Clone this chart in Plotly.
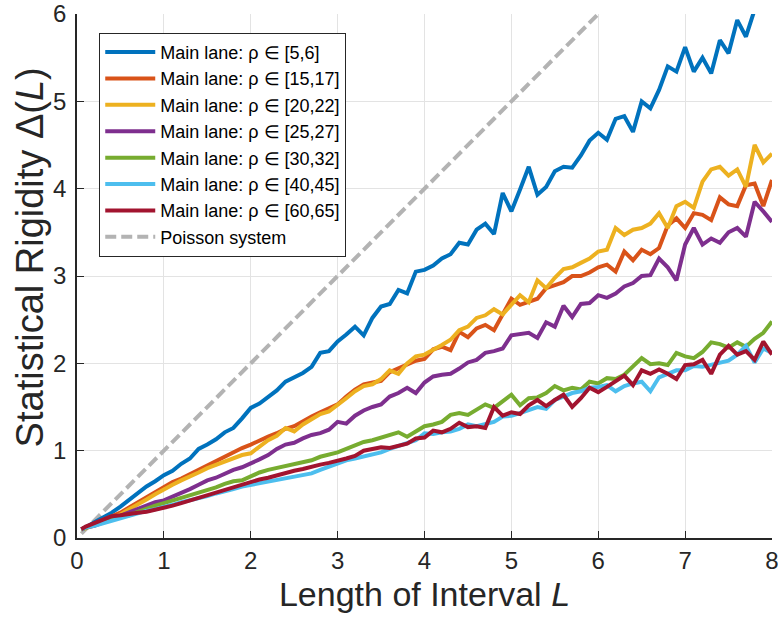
import plotly.graph_objects as go

# interval lengths L (grid of the curves)
L = [0.05] + [round(0.1 * i, 1) for i in range(1, 81)]

rho_5_6 = [0.10, 0.12, 0.18, 0.23, 0.29, 0.36, 0.44, 0.51, 0.59, 0.65,
           0.72, 0.77, 0.85, 0.91, 1.02, 1.07, 1.13, 1.21, 1.26, 1.37,
           1.49, 1.54, 1.62, 1.69, 1.79, 1.84, 1.89, 1.96, 2.12, 2.14,
           2.25, 2.33, 2.42, 2.32, 2.52, 2.65, 2.68, 2.84, 2.80, 3.05,
           3.07, 3.12, 3.20, 3.25, 3.38, 3.36, 3.53, 3.60, 3.48, 3.95,
           3.74, 3.99, 4.25, 3.93, 4.02, 4.20, 4.25, 4.24, 4.38, 4.55,
           4.64, 4.56, 4.80, 4.83, 4.65, 5.00, 4.92, 5.13, 5.40, 5.34,
           5.62, 5.34, 5.50, 5.32, 5.70, 5.55, 5.93, 5.74, 6.05, 6.20,
           6.30]

rho_15_17 = [0.10, 0.12, 0.16, 0.20, 0.24, 0.29, 0.35, 0.41, 0.47, 0.53,
             0.59, 0.64, 0.68, 0.73, 0.79, 0.84, 0.88, 0.94, 0.98, 1.03,
             1.07, 1.12, 1.16, 1.20, 1.25, 1.28, 1.34, 1.39, 1.44, 1.49,
             1.53, 1.62, 1.70, 1.76, 1.78, 1.80, 1.90, 1.94, 1.98, 2.03,
             2.05, 2.16, 2.19, 2.15, 2.36, 2.30, 2.40, 2.44, 2.38, 2.55,
             2.74, 2.67, 2.70, 2.74, 2.86, 2.90, 2.93, 3.00, 3.00, 3.04,
             3.10, 3.13, 3.05, 3.28, 3.18, 3.30, 3.25, 3.32, 3.58, 3.66,
             3.55, 3.72, 3.70, 3.64, 3.90, 3.82, 3.80, 4.04, 4.06, 3.80,
             4.10]

rho_20_22 = [0.10, 0.11, 0.15, 0.19, 0.23, 0.27, 0.33, 0.38, 0.44, 0.50,
             0.56, 0.61, 0.66, 0.70, 0.75, 0.80, 0.84, 0.88, 0.92, 0.95,
             0.97, 1.04, 1.12, 1.17, 1.26, 1.22, 1.30, 1.36, 1.42, 1.45,
             1.52, 1.60, 1.68, 1.74, 1.76, 1.82, 1.92, 1.88, 2.00, 2.08,
             2.10, 2.15, 2.21, 2.27, 2.38, 2.42, 2.52, 2.55, 2.62, 2.56,
             2.67, 2.78, 2.70, 2.95, 2.86, 2.98, 3.08, 3.10, 3.15, 3.20,
             3.28, 3.30, 3.55, 3.47, 3.53, 3.55, 3.60, 3.72, 3.55, 3.80,
             3.85, 3.78, 4.08, 4.22, 4.25, 4.15, 4.22, 4.02, 4.50, 4.30,
             4.40]

rho_25_27 = [0.10, 0.12, 0.14, 0.18, 0.21, 0.25, 0.29, 0.33, 0.37, 0.41,
             0.43, 0.47, 0.51, 0.56, 0.61, 0.66, 0.69, 0.74, 0.78, 0.81,
             0.85, 0.90, 0.95, 1.02, 1.07, 1.09, 1.14, 1.18, 1.20, 1.24,
             1.33, 1.31, 1.40, 1.46, 1.50, 1.53, 1.62, 1.66, 1.72, 1.66,
             1.78, 1.85, 1.87, 1.88, 1.94, 2.01, 2.04, 2.12, 2.14, 2.17,
             2.32, 2.33, 2.35, 2.29, 2.47, 2.42, 2.66, 2.53, 2.68, 2.69,
             2.78, 2.75, 2.80, 2.88, 2.92, 3.00, 3.01, 3.20, 3.10, 2.95,
             3.36, 3.55, 3.36, 3.43, 3.38, 3.50, 3.55, 3.45, 3.85, 3.74,
             3.62]

rho_30_32 = [0.10, 0.12, 0.15, 0.18, 0.22, 0.24, 0.26, 0.30, 0.34, 0.37,
             0.40, 0.43, 0.45, 0.49, 0.52, 0.55, 0.58, 0.62, 0.65, 0.66,
             0.71, 0.75, 0.78, 0.80, 0.82, 0.85, 0.87, 0.89, 0.93, 0.95,
             0.98, 1.02, 1.06, 1.10, 1.12, 1.15, 1.18, 1.21, 1.16, 1.22,
             1.28, 1.30, 1.33, 1.41, 1.43, 1.41, 1.47, 1.53, 1.49, 1.57,
             1.64, 1.52, 1.60, 1.61, 1.66, 1.74, 1.69, 1.72, 1.70, 1.79,
             1.77, 1.83, 1.82, 1.87, 1.96, 2.06, 1.99, 2.00, 1.98, 2.12,
             2.08, 2.06, 2.13, 2.24, 2.22, 2.18, 2.24, 2.19, 2.28, 2.35,
             2.48]

rho_40_45 = [0.10, 0.12, 0.14, 0.17, 0.20, 0.23, 0.26, 0.28, 0.31, 0.33,
             0.35, 0.38, 0.41, 0.43, 0.46, 0.48, 0.51, 0.53, 0.56, 0.59,
             0.61, 0.62, 0.64, 0.66, 0.68, 0.70, 0.72, 0.74, 0.78, 0.82,
             0.86, 0.89, 0.91, 0.93, 0.95, 0.98, 1.02, 1.05, 1.08, 1.12,
             1.20, 1.19, 1.21, 1.22, 1.25, 1.30, 1.28, 1.31, 1.33, 1.39,
             1.40, 1.43, 1.46, 1.50, 1.48, 1.58, 1.62, 1.66, 1.68, 1.72,
             1.73, 1.75, 1.68, 1.74, 1.77, 1.79, 1.68, 1.84, 1.88, 1.92,
             1.92, 1.97, 1.96, 1.98, 2.00, 2.03, 2.10, 2.20, 2.01, 2.17,
             2.12]

rho_60_65 = [0.10, 0.13, 0.17, 0.21, 0.25, 0.26, 0.28, 0.29, 0.30, 0.32,
             0.34, 0.37, 0.40, 0.43, 0.46, 0.50, 0.52, 0.55, 0.59, 0.62,
             0.65, 0.67, 0.69, 0.72, 0.74, 0.77, 0.79, 0.82, 0.84, 0.86,
             0.88, 0.91, 0.94, 1.00, 1.02, 1.04, 1.03, 1.06, 1.08, 1.14,
             1.15, 1.23, 1.21, 1.25, 1.32, 1.27, 1.28, 1.26, 1.50, 1.40,
             1.44, 1.42, 1.52, 1.58, 1.51, 1.58, 1.64, 1.50, 1.60, 1.72,
             1.67, 1.73, 1.80, 1.86, 1.75, 1.92, 1.88, 1.93, 1.88, 1.82,
             1.98, 1.99, 2.04, 1.88, 2.10, 2.20, 2.10, 2.14, 2.04, 2.25,
             2.10]

# Poisson reference: Delta(L) = L
poisson_L = [0.05, 8.0]
poisson_val = [0.05, 8.0]

series = [
    ("Main lane: ρ ∈ [5,6]", rho_5_6, "#0072BD"),
    ("Main lane: ρ ∈ [15,17]", rho_15_17, "#D95319"),
    ("Main lane: ρ ∈ [20,22]", rho_20_22, "#EDB120"),
    ("Main lane: ρ ∈ [25,27]", rho_25_27, "#7E2F8E"),
    ("Main lane: ρ ∈ [30,32]", rho_30_32, "#77AC30"),
    ("Main lane: ρ ∈ [40,45]", rho_40_45, "#4DBEEE"),
    ("Main lane: ρ ∈ [60,65]", rho_60_65, "#A2142F"),
]

fig = go.Figure()

fig.add_trace(go.Scatter(x=poisson_L, y=poisson_val, mode="lines", name="Poisson system",
                         line=dict(color="#B3B3B3", width=4, dash="11px,5px"), showlegend=False))

for name, vals, col in series:
    fig.add_trace(go.Scatter(x=L, y=vals, mode="lines", name=name,
                             line=dict(color=col, width=4)))

# legend entry for the Poisson line (placed last like the reference)
fig.add_trace(go.Scatter(x=[None], y=[None], mode="lines", name="Poisson system",
                         line=dict(color="#B3B3B3", width=4, dash="11px,5px")))

axis_common = dict(
    showgrid=True, gridcolor="#E3E3E3", gridwidth=1,
    showline=True, linecolor="#262626", linewidth=1.5,
    ticks="inside", ticklen=7, tickcolor="#262626", tickwidth=1,
    zeroline=False, mirror=False, automargin=False,
    ticklabeloverflow="allow",
    tickfont=dict(family="Arial", size=24, color="#262626"),
)

fig.update_xaxes(range=[0, 8], dtick=1, **axis_common,
                 title=dict(text="Length of Interval <i>L</i>",
                            font=dict(family="Arial", size=34, color="#262626"), standoff=10))
fig.update_yaxes(range=[0, 6], dtick=1, ticklabelstandoff=4, **axis_common)

# y title as annotation so its place can follow the reference
fig.add_annotation(text="Statistical Rigidity Δ(<i>L</i>)", textangle=-90,
                   xref="paper", yref="paper", x=-0.068, y=0.535,
                   xanchor="center", yanchor="middle", showarrow=False,
                   font=dict(family="Arial", size=38, color="#262626"))

fig.update_layout(
    width=778, height=635,
    margin=dict(l=77, r=6, t=14, b=97),
    plot_bgcolor="white", paper_bgcolor="white",
    font=dict(family="Arial", color="#262626"),
    legend=dict(x=0.032, y=0.964, xanchor="left", yanchor="top",
                bgcolor="white", bordercolor="#262626", borderwidth=1,
                font=dict(family="Arial", size=18, color="#000000"),
                itemwidth=50, tracegroupgap=0),
)

fig.write_html("out.html", config={"displayModeBar": False},
               post_script="document.body.style.margin='0px';")
